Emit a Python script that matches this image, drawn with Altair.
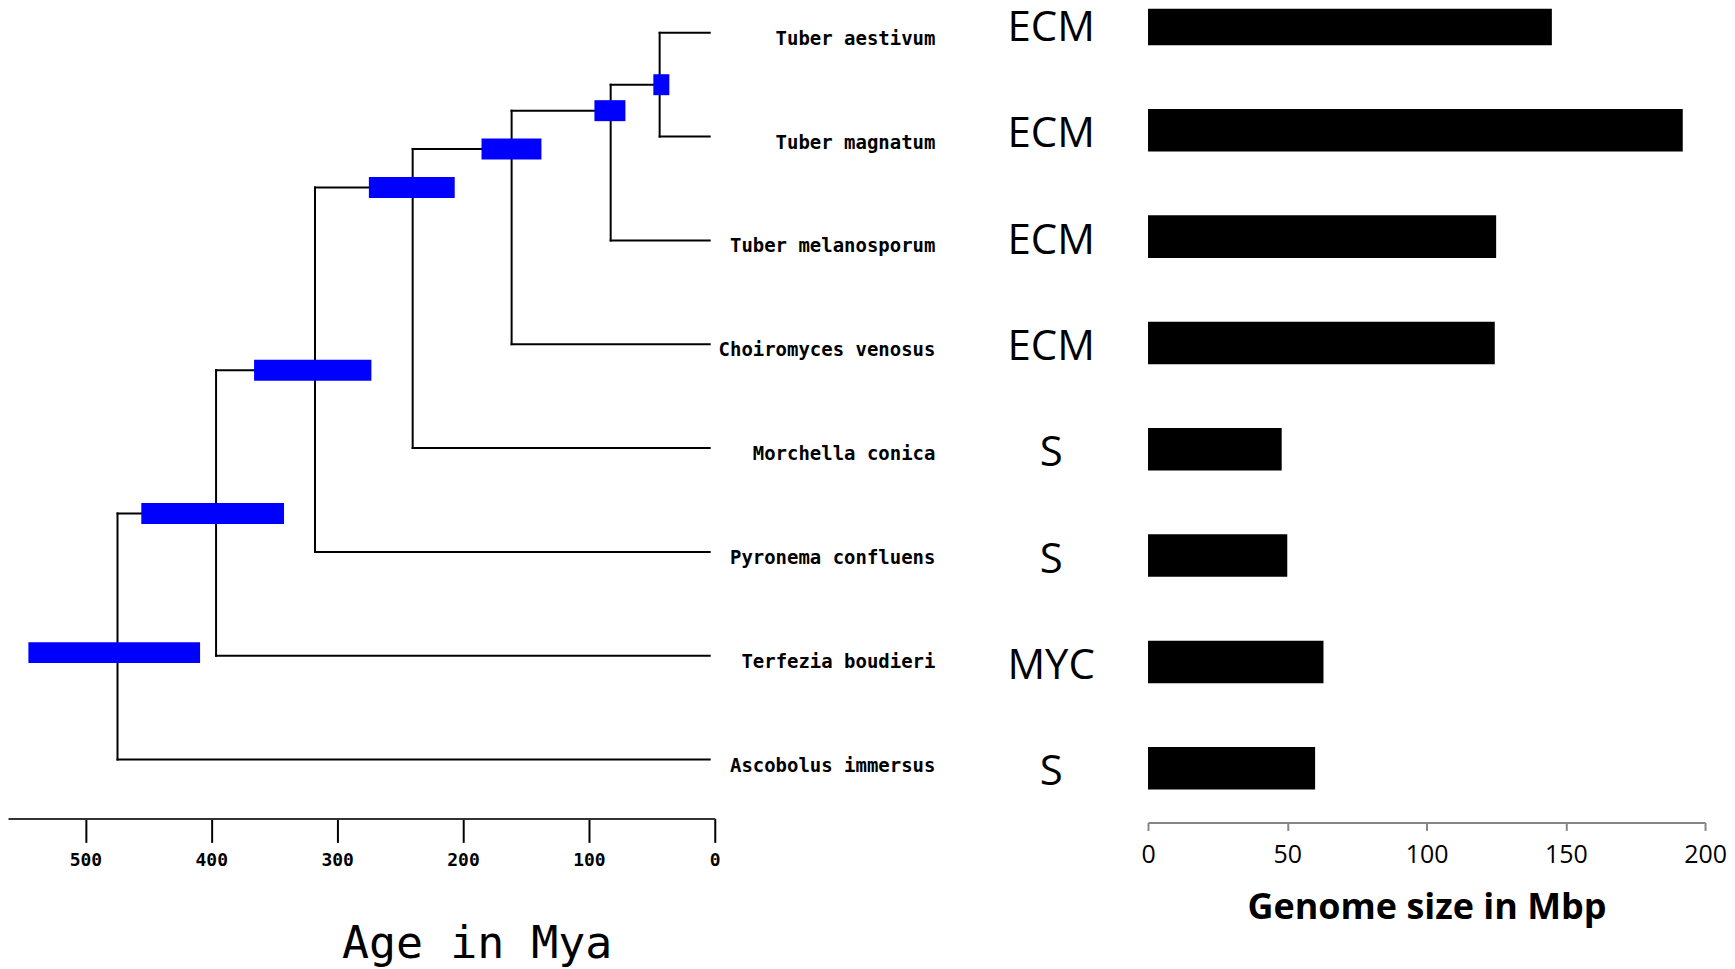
import altair as alt
import pandas as pd

# ---------------- data ----------------
species = ["Tuber aestivum", "Tuber magnatum", "Tuber melanosporum", "Choiromyces venosus",
           "Morchella conica", "Pyronema confluens", "Terfezia boudieri", "Ascobolus immersus"]
lifestyle = ["ECM", "ECM", "ECM", "ECM", "S", "S", "MYC", "S"]
genome_mbp = [145, 192, 125, 124.5, 48, 50, 63, 60]

tip_age = 4.0                                                      # tips end just short of 0
# internal nodes, from the root to the T. aestivum / T. magnatum split
node_age = [474.5, 396.2, 317.6, 240.0, 161.4, 82.7, 43.8]       # Mya
node_row = [5.97, 4.63, 3.25, 1.49, 1.12, 0.75, 0.50]             # vertical position (tip rows 0..7)
hpd_old = [545.3, 455.6, 366.0, 274.8, 185.3, 95.6, 48.8]         # blue bar, older end
hpd_young = [408.9, 342.2, 272.8, 206.6, 137.7, 71.0, 36.1]       # blue bar, younger end

age_ticks = [0, 100, 200, 300, 400, 500]
size_ticks = [0, 50, 100, 150, 200]

# ---------------- tree segments built from the node table ----------------
n_tips = len(species)
segs = []
for i, age in enumerate(node_age):
    tip = n_tips - 1 - i
    last = i + 1 == len(node_age)
    child_row = 0 if last else node_row[i + 1]
    segs.append(dict(x=age, x2=age, y=child_row, y2=tip))          # vertical
    segs.append(dict(x=age, x2=tip_age, y=tip, y2=tip))            # branch to tip
    if last:
        segs.append(dict(x=age, x2=tip_age, y=0, y2=0))
    else:
        segs.append(dict(x=age, x2=node_age[i + 1], y=node_row[i + 1], y2=node_row[i + 1]))
seg_df = pd.DataFrame(segs)
hpd_df = pd.DataFrame({"old": hpd_old, "young": hpd_young, "row": node_row})
tips_df = pd.DataFrame({"species": species, "row": list(range(n_tips)),
                        "size": genome_mbp, "life": lifestyle})

TREE_W, TREE_H = 708, 811
BAR_W, BAR_H = 558, 815

xs_tree = alt.Scale(domain=[0, 561.5], reverse=True, nice=False, zero=False)
ys_tree = alt.Scale(domain=[-0.2308, 7.567], reverse=True, nice=False, zero=False)

age_axis = alt.Axis(
    values=age_ticks, format="d", grid=False, labelFlush=False,
    labelFont="DejaVu Sans Mono", labelFontWeight="bold", labelFontSize=18, labelColor="black",
    labelPadding=9, tickSize=24, tickWidth=2, tickColor="black",
    domainColor="#333333", domainWidth=2,
    title="Age in Mya", titleFont="DejaVu Sans Mono", titleFontSize=45, titleFontWeight="normal",
    titleColor="black", titleX=469.5, titleY=139, titleAlign="center", titleBaseline="alphabetic",
)

branches = alt.Chart(seg_df).mark_rule(color="black", strokeWidth=2, strokeCap="square").encode(
    x=alt.X("x:Q", scale=xs_tree, axis=age_axis),
    x2="x2:Q",
    y=alt.Y("y:Q", scale=ys_tree, axis=None),
    y2="y2:Q",
)
hpd = alt.Chart(hpd_df).mark_rule(color="#0000ff", strokeWidth=21, strokeCap="butt").encode(
    x=alt.X("old:Q", scale=xs_tree),
    x2="young:Q",
    y=alt.Y("row:Q", scale=ys_tree),
)
names = alt.Chart(tips_df).mark_text(
    font="DejaVu Sans Mono", fontWeight="bold", fontSize=19, align="right",
    baseline="middle", dy=6, color="black",
).encode(
    x=alt.value(929),
    y=alt.Y("row:Q", scale=ys_tree),
    text="species:N",
)
tree = alt.layer(branches, hpd, names).properties(width=TREE_W, height=TREE_H)

# ---------------- genome size bars ----------------
xs_bar = alt.Scale(domain=[0, 200], nice=False)
ys_bar = alt.Scale(domain=[-0.1427, 7.5098], reverse=True, nice=False, zero=False)

size_axis = alt.Axis(
    values=size_ticks, format="d", grid=False, labelFlush=False,
    labelFont="Open Sans", labelFontSize=25, labelColor="black", labelPadding=12,
    tickSize=8, tickWidth=2, tickColor="#868686", domainColor="#868686", domainWidth=2,
    title="Genome size in Mbp", titleFont="Open Sans", titleFontSize=36, titleFontWeight="bold",
    titleColor="black", titleY=96, titleBaseline="alphabetic",
)

bars = alt.Chart(tips_df).transform_calculate(
    zero="0", y0="datum.row - 0.2", y1="datum.row + 0.2"
).mark_rect(color="black", clip=True).encode(
    x=alt.X("zero:Q", scale=xs_bar, axis=size_axis),
    x2="size:Q",
    y=alt.Y("y0:Q", scale=ys_bar, axis=None),
    y2="y1:Q",
)
life = alt.Chart(tips_df).mark_text(
    font="Open Sans", fontSize=42, align="center", baseline="middle", dy=4, color="black",
).encode(
    x=alt.value(-97),
    y=alt.Y("row:Q", scale=ys_bar),
    text="life:N",
)
bar_panel = alt.layer(bars, life).properties(width=BAR_W, height=BAR_H)

chart = alt.hconcat(tree, bar_panel, spacing=434, bounds="flush").properties(
    padding={"top": -2, "left": 0, "right": 0, "bottom": 0}, background="white"
).configure_view(stroke=None)

chart.save("out.html", embed_options={"renderer": "svg", "actions": False})
